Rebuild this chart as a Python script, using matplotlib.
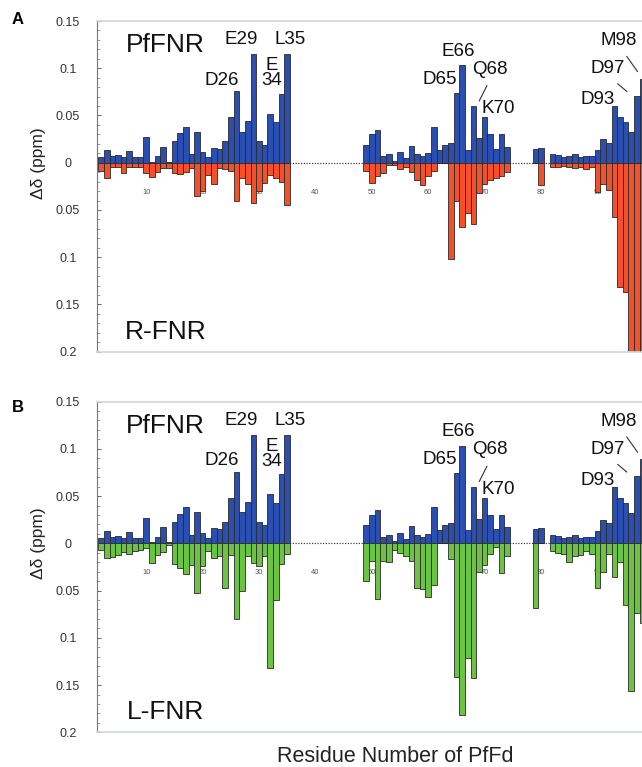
import numpy as np
import matplotlib
matplotlib.use("Agg")
import matplotlib.pyplot as plt

plt.rcParams['font.family'] = ['Liberation Sans', 'DejaVu Sans']

# ---------------- data ----------------
residues = list(range(2, 36)) + list(range(49, 75)) + [79, 80] + list(range(82, 99))

pffnr = [0.006, 0.013, 0.007, 0.008, 0.006, 0.012, 0.006, 0.006, 0.027, 0.001,
         0.007, 0.017, 0.001, 0.023, 0.031, 0.038, 0.009, 0.033, 0.011, 0.006,
         0.016, 0.015, 0.023, 0.048, 0.076, 0.033, 0.044, 0.115, 0.023, 0.019,
         0.052, 0.043, 0.073, 0.115,
         0.019, 0.030, 0.035, 0.007, 0.009, 0.002, 0.011, 0.005, 0.018, 0.009,
         0.007, 0.010, 0.038, 0.014, 0.019, 0.021, 0.074, 0.103, 0.014, 0.060,
         0.026, 0.048, 0.030, 0.015, 0.030, 0.017,
         0.015, 0.016,
         0.009, 0.008, 0.006, 0.007, 0.009, 0.006, 0.007, 0.007, 0.013, 0.025,
         0.021, 0.060, 0.048, 0.043, 0.032, 0.071, 0.089]

r_fnr = [0.009, 0.016, 0.005, 0.005, 0.011, 0.005, 0.004, 0.005, 0.011, 0.015,
         0.010, 0.006, 0.006, 0.011, 0.012, 0.010, 0.006, 0.035, 0.030, 0.013,
         0.023, 0.006, 0.007, 0.009, 0.041, 0.016, 0.022, 0.043, 0.030, 0.021,
         0.013, 0.016, 0.020, 0.045,
         0.009, 0.021, 0.014, 0.011, 0.002, 0.002, 0.007, 0.004, 0.010, 0.018,
         0.024, 0.014, 0.009, 0.0, 0.0, 0.102, 0.040, 0.068, 0.053, 0.065,
         0.032, 0.022, 0.018, 0.016, 0.014, 0.010,
         0.0, 0.024,
         0.004, 0.004, 0.003, 0.005, 0.006, 0.005, 0.007, 0.005, 0.031, 0.022,
         0.029, 0.057, 0.132, 0.137, 0.200, 0.200, 0.200]

l_fnr = [0.007, 0.016, 0.014, 0.012, 0.009, 0.011, 0.008, 0.007, 0.005, 0.021,
         0.012, 0.009, 0.002, 0.022, 0.026, 0.032, 0.023, 0.053, 0.024, 0.008,
         0.015, 0.013, 0.047, 0.012, 0.080, 0.050, 0.013, 0.021, 0.024, 0.013,
         0.132, 0.060, 0.022, 0.011,
         0.040, 0.019, 0.059, 0.019, 0.020, 0.007, 0.010, 0.013, 0.019, 0.047,
         0.048, 0.057, 0.044, 0.0, 0.0, 0.017, 0.141, 0.182, 0.121, 0.143,
         0.030, 0.023, 0.011, 0.004, 0.031, 0.013,
         0.068, 0.0,
         0.008, 0.010, 0.011, 0.020, 0.013, 0.012, 0.008, 0.011, 0.047, 0.030,
         0.011, 0.036, 0.020, 0.065, 0.156, 0.074, 0.084]

ytick_vals = [0.15, 0.1, 0.05, 0, -0.05, -0.1, -0.15, -0.2]
ytick_labels = ["0.15", "0.1", "0.05", "0", "0.05", "0.1", "0.15", "0.2"]
xtick_vals = [10, 20, 30, 40, 50, 60, 70, 80, 90]

# residue labels: (text, x, y)
res_labels = [("E29", 26.9, 0.130), ("L35", 35.5, 0.130), ("D26", 23.4, 0.0875),
              ("E\n34", 32.2, 0.095), ("E66", 65.3, 0.118), ("D65", 62.1, 0.0885),
              ("Q68", 71.0, 0.099), ("K70", 72.4, 0.057), ("M98", 93.8, 0.129),
              ("D97", 91.9, 0.0995), ("D93", 90.1, 0.067)]
leaders = [((70.4, 69.05), (0.0815, 0.0655)),
           ((95.2, 97.1), (0.1125, 0.0965)),
           ((93.6, 95.2), (0.0835, 0.0755))]

BLUE = '#2a4fb0'
RED = '#f4512a'
GREEN = '#6cc241'
EDGE = '#2a2a2a'

W, H = 642, 767
fig = plt.figure(figsize=(W / 100, H / 100), dpi=100)

def make_panel(top_px, bottom_px, lower, lower_color, lower_name, letter, letter_y):
    ax = fig.add_axes([97 / W, 1 - bottom_px / H, 1 - 97 / W, (bottom_px - top_px) / H])
    ax.set_xlim(1.27, 97.9)
    ax.set_ylim(-0.2, 0.15)
    x = np.array(residues)
    ax.axhline(0, color='#444444', lw=0.9, ls=(0, (1, 1.2)), zorder=1)
    for xv in xtick_vals:
        ax.text(xv, -0.031, str(xv), fontsize=5.5, color='#555555',
                ha='center', va='center', zorder=1)
    ax.bar(x, pffnr, width=1.0, color=BLUE, edgecolor=EDGE, linewidth=0.6, zorder=2)
    ax.bar(x, -np.array(lower), width=1.0, color=lower_color, edgecolor=EDGE,
           linewidth=0.6, zorder=2)
    ax.set_xticks([])
    ax.set_yticks(ytick_vals)
    ax.set_yticklabels(ytick_labels)
    ax.set_yticks(np.arange(-0.2, 0.151, 0.01), minor=True)
    ax.tick_params(axis='y', which='major', direction='in', length=3, width=0.7,
                   color='#666666', labelsize=9, labelcolor='#333333', pad=21)
    ax.tick_params(axis='y', which='minor', direction='in', length=2, width=0.5,
                   color='#777777')
    for lab in ax.get_yticklabels():
        lab.set_horizontalalignment('center')
    ax.spines['right'].set_visible(False)
    ax.spines['left'].set_color('#777777')
    ax.spines['left'].set_linewidth(0.8)
    for s in ('top', 'bottom'):
        ax.spines[s].set_color('#cfd8dc')
        ax.spines[s].set_linewidth(1.2)
    ax.text(13.3, 0.1245, "PfFNR", fontsize=19, ha='center', va='center', color='#111111')
    ax.text(13.5, -0.179, lower_name, fontsize=19, ha='center', va='center', color='#111111')
    for t, xx, yy in res_labels:
        ax.text(xx, yy, t, fontsize=13.5, ha='center', va='center', color='#111111',
                linespacing=0.85)
    for xs, ys in leaders:
        ax.plot(xs, ys, color='#333333', lw=0.8)
    fig.text(18 / W, 1 - letter_y / H, letter, fontsize=12, fontweight='bold',
             ha='center', va='center')
    fig.text(38 / W, 1 - (top_px + 141.7) / H, "Δδ (ppm)", fontsize=12.5,
             rotation=90, ha='center', va='center', color='#222222')
    return ax

make_panel(21, 351.7, r_fnr, RED, "R-FNR", "A", 19)
make_panel(401.6, 732.3, l_fnr, GREEN, "L-FNR", "B", 408)

fig.text(395 / W, 1 - 757 / H, "Residue Number of PfFd", fontsize=15.5,
         ha='center', va='center', color='#222222')

fig.savefig("out.png", dpi=100)
